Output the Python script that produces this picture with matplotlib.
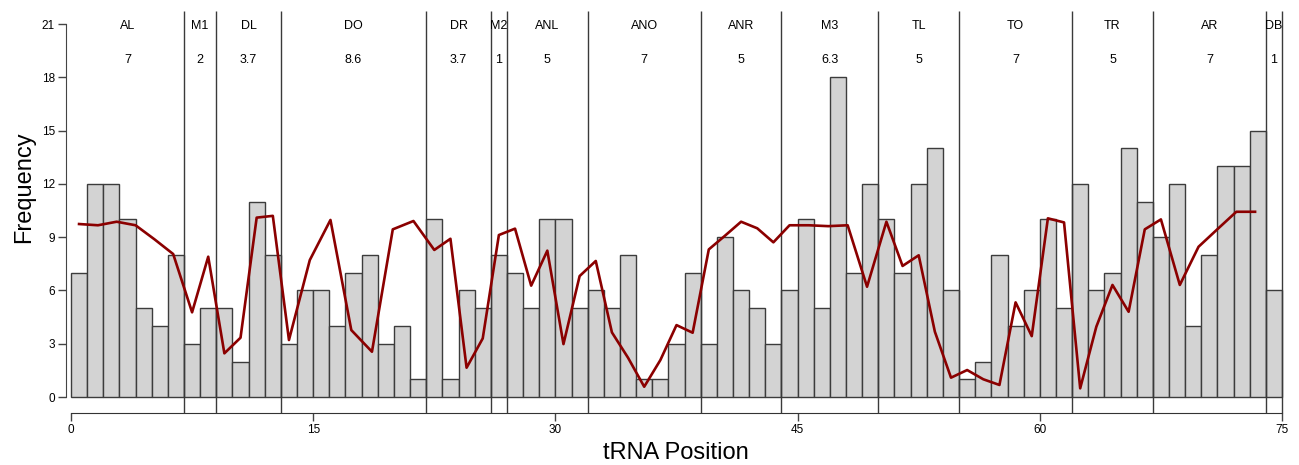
import numpy as np
import matplotlib
matplotlib.use('Agg')
import matplotlib.pyplot as plt

plt.rcParams['font.family'] = ['Liberation Sans', 'DejaVu Sans']

# Frequency per tRNA position (0..74)
freq = [7, 12, 12, 10, 5, 4, 8, 3, 5, 5, 2, 11, 8, 3, 6, 6, 4, 7, 8, 3,
        4, 1, 10, 1, 6, 5, 8, 7, 5, 10, 10, 5, 6, 5, 8, 1, 1, 3, 7, 3,
        9, 6, 5, 3, 6, 10, 5, 18, 7, 12, 10, 7, 12, 14, 6, 1, 2, 8, 4, 6,
        10, 5, 12, 6, 7, 14, 11, 9, 12, 4, 8, 13, 13, 15, 6]
positions = np.arange(len(freq))

# Structural regions
region_names = ['AL', 'M1', 'DL', 'DO', 'DR', 'M2', 'ANL', 'ANO', 'ANR',
                'M3', 'TL', 'TO', 'TR', 'AR', 'DB']
region_values = ['7', '2', '3.7', '8.6', '3.7', '1', '5', '7', '5',
                 '6.3', '5', '7', '5', '7', '1']
region_bounds = [0, 7, 9, 13, 22, 26, 27, 32, 39, 44, 50, 55, 62, 67, 74, 75]

# Overlay profile (red line)
line_x = [0.5, 1.67, 2.83, 4.0, 5.17, 6.33,
          7.5, 8.5,
          9.5, 10.5, 11.5, 12.5,
          13.5, 14.79, 16.07, 17.36, 18.64, 19.93, 21.21,
          22.5, 23.5, 24.5, 25.5,
          26.5,
          27.5, 28.5, 29.5, 30.5, 31.5,
          32.5, 33.5, 34.5, 35.5, 36.5, 37.5, 38.5,
          39.5, 40.5, 41.5, 42.5, 43.5,
          44.5, 45.7, 46.9, 48.1, 49.3,
          50.5, 51.5, 52.5, 53.5, 54.5,
          55.5, 56.5, 57.5, 58.5, 59.5, 60.5, 61.5,
          62.5, 63.5, 64.5, 65.5, 66.5,
          67.5, 68.67, 69.83, 71.0, 72.17, 73.33]
line_y = [9.74, 9.67, 9.87, 9.67, 8.88, 8.05,
          4.77, 7.9,
          2.46, 3.34, 10.1, 10.2,
          3.21, 7.71, 9.97, 3.77, 2.55, 9.44, 9.91,
          8.28, 8.91, 1.65, 3.3,
          9.12,
          9.48, 6.27, 8.24, 2.98, 6.81,
          7.66, 3.64, 2.21, 0.58, 2.08, 4.05, 3.62,
          8.31, 9.08, 9.87, 9.5, 8.71,
          9.67, 9.67, 9.62, 9.67, 6.21,
          9.87, 7.38, 7.98, 3.68, 1.09,
          1.52, 1.0, 0.68, 5.33, 3.43, 10.06, 9.83,
          0.49, 3.96, 6.31, 4.8, 9.44,
          10.0, 6.31, 8.46, 9.45, 10.43, 10.43]

x_ticks = [0, 15, 30, 45, 60, 75]
y_ticks = [0, 3, 6, 9, 12, 15, 18, 21]

W, H = 1299, 465
fig = plt.figure(figsize=(W / 100, H / 100), dpi=100)
# axes placed so that x 0..75 -> px 71..1282, y 0..21 -> px 397..24
ax = fig.add_axes([62.9 / W, (H - 414.8) / H, (1290.1 - 62.9) / W, (414.8 - 9.8) / H])
ax.set_xlim(-0.5, 75.5)
ax.set_ylim(-1.0, 21.8)

ax.bar(positions + 0.5, freq, width=1.0, color='#d3d3d3',
       edgecolor='#3c3c3c', linewidth=1.0, zorder=2)

ax.vlines(region_bounds[1:], -0.9, 21.72, color='#3a3a3a', linewidth=1.0, zorder=3)

ax.plot(line_x, line_y, color='#8b0000', linewidth=1.9, zorder=4)

for i, (name, val) in enumerate(zip(region_names, region_values)):
    cx = (region_bounds[i] + region_bounds[i + 1]) / 2
    ax.text(cx, 20.9, name, ha='center', va='center', fontsize=9)
    ax.text(cx, 18.95, val, ha='center', va='center', fontsize=9)

# R-style detached axes
for s in ['top', 'right']:
    ax.spines[s].set_visible(False)
ax.spines['left'].set_position(('data', -0.3))
ax.spines['left'].set_bounds(0, 21)
ax.spines['bottom'].set_position(('data', -0.9))
ax.spines['bottom'].set_bounds(0, 75)
ax.spines['left'].set_color('#444444')
ax.spines['bottom'].set_color('#333333')
ax.set_xticks(x_ticks)
ax.set_yticks(y_ticks)
ax.tick_params(axis='both', length=6, width=1.0, color='#444444', labelsize=8.5, pad=2)

fig.text(24 / W, 1 - 187 / H, 'Frequency', rotation=90, ha='center', va='center', fontsize=17)
fig.text(676 / W, 1 - 453 / H, 'tRNA Position', ha='center', va='center', fontsize=17)

plt.savefig('out.png', dpi=100)
plt.close()
